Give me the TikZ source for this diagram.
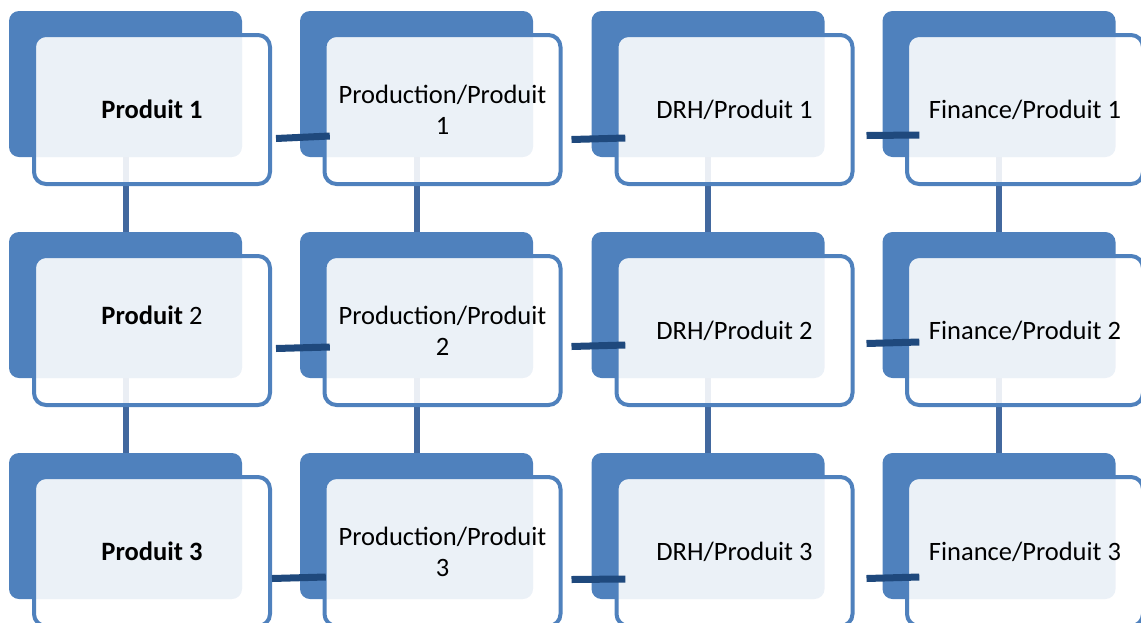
\documentclass[tikz,border=0pt]{standalone}
\usepackage{fontspec}
\setmainfont{Carlito}
\usetikzlibrary{calc}
\definecolor{cardblue}{RGB}{79,129,189}
\definecolor{linkdark}{RGB}{31,73,125}
\definecolor{linkmid}{RGB}{66,104,158}

\begin{document}
\begin{tikzpicture}[x=1pt, y=-1pt, font=\fontsize{26.5}{31}\selectfont,
		back/.style={fill=cardblue, rounded corners=10pt, minimum width=233pt, minimum height=146pt, inner sep=0pt},
		front/.style={draw=cardblue, line width=4pt, fill=white, fill opacity=0.89, text opacity=1, rounded corners=12pt, minimum width=236pt, minimum height=149pt, align=center, inner sep=0pt},
		hlink/.style={linkdark, line width=7pt},
		vlink/.style={linkmid, line width=6pt}]
		
		\useasboundingbox (0,0) rectangle (1141,622);
		
		% 1. Back cards (blue)
		\node[back] (b11) at (125.5,84) {};
		\node[back] (b12) at (416.5,84) {};
		\node[back] (b13) at (708,84) {};
		\node[back] (b14) at (999,84) {};
		\node[back] (b21) at (125.5,305) {};
		\node[back] (b22) at (416.5,305) {};
		\node[back] (b23) at (708,305) {};
		\node[back] (b24) at (999,305) {};
		\node[back] (b31) at (125.5,526) {};
		\node[back] (b32) at (416.5,526) {};
		\node[back] (b33) at (708,526) {};
		\node[back] (b34) at (999,526) {};
		
		% 2. Vertical links (under the front cards)
		\draw[vlink] (b11.south) -- (b21.north);
		\draw[vlink] (b12.south) -- (b22.north);
		\draw[vlink] (b13.south) -- (b23.north);
		\draw[vlink] (b14.south) -- (b24.north);
		\draw[vlink] (b21.south) -- (b31.north);
		\draw[vlink] (b22.south) -- (b32.north);
		\draw[vlink] (b23.south) -- (b33.north);
		\draw[vlink] (b24.south) -- (b34.north);
		
		% 3. Front cards with the texts
		\node[front] (f11) at (152,109.5) {\textbf{Produit 1}};
		\node[front] (f12) at (442.5,109.5) {Production/Produit\\1};
		\node[front] (f13) at (734.5,109.5) {DRH/Produit 1};
		\node[front] (f14) at (1025,109.5) {Finance/Produit 1};
		\node[front] (f21) at (152,330.5) {\textbf{Produit} 2\\\mbox{}};
		\node[front] (f22) at (442.5,330.5) {Production/Produit\\2};
		\node[front] (f23) at (734.5,330.5) {DRH/Produit 2};
		\node[front] (f24) at (1025,330.5) {Finance/Produit 2};
		\node[front] (f31) at (152,551.5) {\textbf{Produit 3}};
		\node[front] (f32) at (442.5,551.5) {Production/Produit\\3};
		\node[front] (f33) at (734.5,551.5) {DRH/Produit 3};
		\node[front] (f34) at (1025,551.5) {Finance/Produit 3};
		
		% 4. Horizontal links (on top)
		\draw[hlink] ($(f11.east)+(4,29)$) -- ($(b12.west)+(30,52)$);
		\draw[hlink] ($(f12.east)+(9,30)$) -- ($(b13.west)+(34,54)$);
		\draw[hlink] ($(f13.east)+(12,26)$) -- ($(b14.west)+(37,51)$);
		\draw[hlink] ($(f21.east)+(4,18)$) -- ($(b22.west)+(30,42)$);
		\draw[hlink] ($(f22.east)+(9,16)$) -- ($(b23.west)+(34,40)$);
		\draw[hlink] ($(f23.east)+(12,13)$) -- ($(b24.west)+(37,37)$);
		\draw[hlink] ($(f31.east)+(0,27)$) -- ($(b32.west)+(26,51)$);
		\draw[hlink] ($(f32.east)+(9,28)$) -- ($(b33.west)+(34,53)$);
		\draw[hlink] ($(f33.east)+(12,27)$) -- ($(b34.west)+(37,51)$);
		
	\end{tikzpicture}
\end{document}
